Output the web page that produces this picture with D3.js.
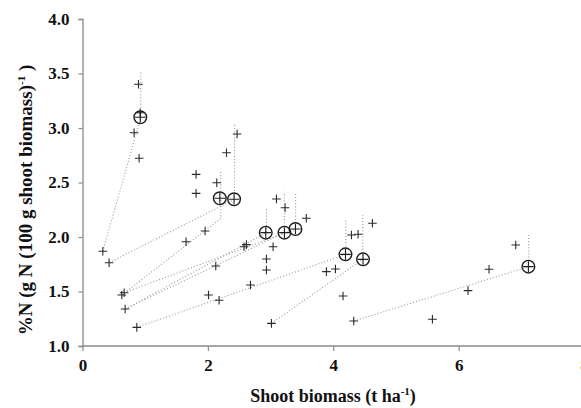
<!DOCTYPE html>
<html>
<head>
<meta charset="utf-8">
<script src="https://cdn.jsdelivr.net/npm/d3@7"></script>
<style>
  html, body { margin: 0; padding: 0; background: #fff; }
  svg { display: block; }
  .tick text { font-family: "Liberation Serif", "Times New Roman", serif; font-weight: bold; font-size: 17px; fill: #111; }
</style>
</head>
<body>
<div id="chart"></div>
<script>
// ---- data ----
const xTicks = [0, 2, 4, 6, 8];
const yTicks = [1.0, 1.5, 2.0, 2.5, 3.0, 3.5, 4.0];

// individual observations (+)
const obsX = [0.324, 0.424, 0.627, 0.664, 0.680, 0.866, 0.823, 0.893, 0.903, 0.920,
              1.652, 1.812, 1.812, 1.956, 2.142, 2.297, 2.466, 2.126, 2.010, 2.179,
              2.577, 2.615, 3.040, 3.094, 3.231, 3.570, 2.934, 2.934, 2.679, 3.014,
              3.891, 4.035, 4.156, 4.290, 4.396, 4.625, 4.327, 5.582, 6.150, 6.485, 6.911];
const obsY = [1.869, 1.764, 1.468, 1.489, 1.339, 1.171, 2.957, 3.401, 2.722, 3.140,
              1.957, 2.575, 2.400, 2.055, 2.498, 2.773, 2.945, 1.734, 1.468, 1.420,
              1.911, 1.930, 1.911, 2.349, 2.269, 2.172, 1.798, 1.697, 1.560, 1.208,
              1.682, 1.706, 1.459, 2.018, 2.025, 2.126, 1.229, 1.245, 1.508, 1.704, 1.927];

// circled means (⊕)
const meanX = [0.922, 2.190, 2.418, 2.923, 3.221, 3.397, 4.195, 4.475, 7.113];
const meanY = [3.098, 2.355, 2.346, 2.040, 2.040, 2.073, 1.841, 1.795, 1.728];

// dotted trajectories: start point -> end point, then vertical from end up to top
const startX = [0.324, 0.627, 0.424, 0.680, 0.680, 0.664, 0.866, 3.014, 4.327];
const startY = [1.869, 1.468, 1.764, 1.339, 1.339, 1.489, 1.171, 1.208, 1.229];
const endX   = [0.930, 2.205, 2.425, 2.935, 3.221, 3.400, 4.200, 4.470, 7.118];
const endY   = [3.098, 2.170, 2.346, 2.040, 2.040, 2.073, 1.841, 1.795, 1.728];
const topY   = [3.530, 2.600, 3.030, 2.263, 2.416, 2.400, 2.156, 2.202, 2.018];

// ---- layout ----
const W = 581, H = 408;
const x = d3.scaleLinear().domain([0, 8]).range([82.5, 584]);
const y = d3.scaleLinear().domain([1, 4]).range([346, 19]);

const svg = d3.select("#chart").append("svg").attr("width", W).attr("height", H);

// axes
const axisColor = "#8a8a8a";
const gx = svg.append("g").attr("transform", `translate(0,${y(1)})`)
  .call(d3.axisBottom(x).tickValues(xTicks).tickFormat(d3.format("d")).tickSize(5).tickPadding(8));
const gy = svg.append("g").attr("transform", `translate(${x(0)},0)`)
  .call(d3.axisLeft(y).tickValues(yTicks).tickFormat(d3.format(".1f")).tickSize(4).tickPadding(9));
[gx, gy].forEach(g => {
  g.select(".domain").attr("stroke", axisColor).attr("stroke-width", 1.3);
  g.selectAll(".tick line").attr("stroke", axisColor).attr("stroke-width", 1.2);
});
gx.select(".domain").attr("d", `M${x(0)},0H${W + 10}`);

// dotted lines
const lineColor = "#a0a0a0";
const gl = svg.append("g").attr("fill", "none").attr("stroke", lineColor)
  .attr("stroke-width", 1.1).attr("stroke-dasharray", "1.1,2");
startX.forEach((sx, i) => {
  gl.append("path").attr("d", d3.line()([
    [x(sx), y(startY[i])], [x(endX[i]), y(endY[i])], [x(endX[i]), y(topY[i])]
  ]));
});

// plus markers
const plusSize = 4.3;
const gp = svg.append("g").attr("stroke", "#2a2a2a").attr("stroke-width", 1.1);
obsX.forEach((ox, i) => {
  const cx = x(ox), cy = y(obsY[i]);
  gp.append("path").attr("d", `M${cx - plusSize},${cy}H${cx + plusSize}M${cx},${cy - plusSize}V${cy + plusSize}`);
});

// circled means
const gm = svg.append("g").attr("stroke", "#1e1e1e").attr("fill", "none");
meanX.forEach((mx, i) => {
  const cx = x(mx), cy = y(meanY[i]);
  gm.append("circle").attr("cx", cx).attr("cy", cy).attr("r", 6.3).attr("stroke-width", 1.4);
  gm.append("path").attr("stroke-width", 1.1)
    .attr("d", `M${cx - 5.3},${cy}H${cx + 5.3}M${cx},${cy - 5.3}V${cy + 5.3}`);
});

// axis titles
const titleFont = '"Liberation Serif", "Times New Roman", serif';
const xt = svg.append("text").attr("x", 333).attr("y", 402).attr("text-anchor", "middle")
  .attr("font-family", titleFont).attr("font-weight", "bold").attr("font-size", 18).attr("fill", "#111");
xt.append("tspan").text("Shoot biomass (t ha");
xt.append("tspan").attr("dy", -7).attr("font-size", 11).text("-1");
xt.append("tspan").attr("dy", 7).text(")");

const yt = svg.append("text").attr("transform", "translate(32,200) rotate(-90)").attr("text-anchor", "middle")
  .attr("font-family", titleFont).attr("font-weight", "bold").attr("font-size", 19).attr("fill", "#111");
yt.append("tspan").text("%N (g N (100 g shoot biomass)");
yt.append("tspan").attr("dy", -7).attr("font-size", 11).text("-1");
yt.append("tspan").attr("dy", 7).text(" )");
</script>
</body>
</html>
